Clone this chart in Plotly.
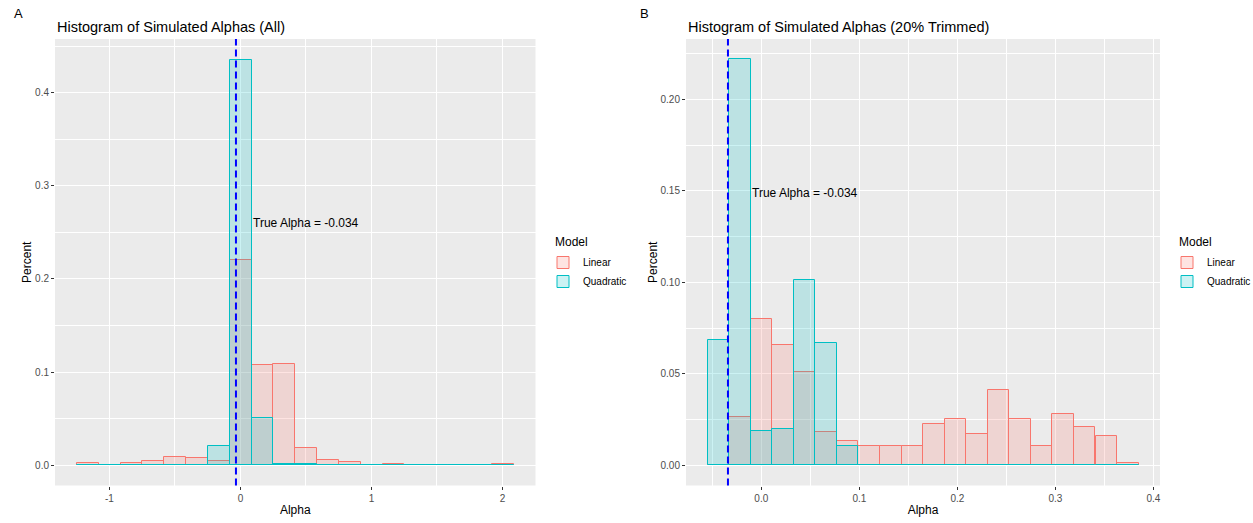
import plotly.graph_objects as go

# ---------------- data ----------------
TRUE_ALPHA = -0.034
BIN_WIDTH_ALL = 0.1667
BIN_WIDTH_TRIM = 0.02198

# Panel A (All) bin centers
bins_all = [-1.165, -0.998, -0.831, -0.665, -0.498, -0.331, -0.165, 0.002, 0.169, 0.335,
            0.502, 0.669, 0.835, 1.002, 1.168, 1.335, 1.502, 1.668, 1.835, 2.002]
linear_all = [0.0022, 0.0, 0.002, 0.0043, 0.0086, 0.0075, 0.0043, 0.2198, 0.1075, 0.1086,
              0.019, 0.0054, 0.0032, 0.0, 0.001, 0.0, 0.0, 0.0, 0.0, 0.001]
quadratic_all = [0.0, 0.0, 0.0, 0.0, 0.0, 0.0, 0.0204, 0.4346, 0.0509, 0.001,
                 0.001, 0.0, 0.0, 0.0, 0.0, 0.0, 0.0, 0.0, 0.0, 0.0]

# Panel B (20% trimmed) bin centers
bins_trim = [-0.0438, -0.0218, 0.0002, 0.0222, 0.0441, 0.0661, 0.0881, 0.1101, 0.1321, 0.1541,
             0.1760, 0.1980, 0.2200, 0.2420, 0.2640, 0.2859, 0.3079, 0.3299, 0.3519, 0.3739]
linear_trim = [0.0, 0.0263, 0.0801, 0.0657, 0.0509, 0.0184, 0.0131, 0.0104, 0.0104, 0.0104,
               0.0224, 0.0252, 0.0172, 0.0411, 0.0252, 0.0104, 0.0279, 0.021, 0.0159, 0.0013]
quadratic_trim = [0.0682, 0.2219, 0.0186, 0.0197, 0.1013, 0.0668, 0.0104, 0.0, 0.0, 0.0,
                  0.0, 0.0, 0.0, 0.0, 0.0, 0.0, 0.0, 0.0, 0.0, 0.0]

# tick labels
xticks_all = [-1, 0, 1, 2]
xticktext_all = ["-1", "0", "1", "2"]
yticks_all = [0.0, 0.1, 0.2, 0.3, 0.4]
yticktext_all = ["0.0", "0.1", "0.2", "0.3", "0.4"]
xticks_trim = [0.0, 0.1, 0.2, 0.3, 0.4]
xticktext_trim = ["0.0", "0.1", "0.2", "0.3", "0.4"]
yticks_trim = [0.0, 0.05, 0.10, 0.15, 0.20]
yticktext_trim = ["0.00", "0.05", "0.10", "0.15", "0.20"]

titles = ["Histogram of Simulated Alphas (All)", "Histogram of Simulated Alphas (20% Trimmed)"]
label_pos_all = (0.503, 0.260)
label_pos_trim = (0.045, 0.149)

# ---------------- style ----------------
W, H = 1253, 523
FONT = "Liberation Sans, Arial, sans-serif"
RED = "#F8766D"
TEAL = "#00BFC4"
RED_FILL = "rgba(248,118,109,0.2)"
TEAL_FILL = "rgba(0,191,196,0.2)"

def px(xp):
    return xp / W

def py(yp):
    return 1 - yp / H

fig = go.Figure()

def add_hist(xs, ys, width, name, fill, line, xa, ya, legend, show):
    fig.add_trace(go.Bar(
        x=xs, y=ys, width=width, name=name,
        marker=dict(color=fill, line=dict(color=line, width=1)),
        xaxis=xa, yaxis=ya, legend=legend, showlegend=show,
        legendgroup=name + legend,
    ))

add_hist(bins_all, linear_all, BIN_WIDTH_ALL, "Linear", RED_FILL, RED, "x", "y", "legend", True)
add_hist(bins_all, quadratic_all, BIN_WIDTH_ALL, "Quadratic", TEAL_FILL, TEAL, "x", "y", "legend", True)
add_hist(bins_trim, linear_trim, BIN_WIDTH_TRIM, "Linear", RED_FILL, RED, "x2", "y2", "legend2", True)
add_hist(bins_trim, quadratic_trim, BIN_WIDTH_TRIM, "Quadratic", TEAL_FILL, TEAL, "x2", "y2", "legend2", True)

tickfont = dict(family=FONT, size=10, color="#4D4D4D")
titlefont = dict(family=FONT, size=12, color="#000000")

def xaxis(domain, rng, tv, tt, minor_dtick, minor_tick0, anchor):
    return dict(domain=domain, range=rng, anchor=anchor, tickvals=tv, ticktext=tt,
                ticks="outside", ticklen=3, tickwidth=1, tickcolor="#333333",
                tickfont=tickfont, showgrid=True, gridcolor="white", gridwidth=1.2,
                zeroline=False, showline=False, automargin=False,
                title=dict(text="Alpha", font=titlefont, standoff=3),
                minor=dict(dtick=minor_dtick, tick0=minor_tick0, showgrid=True,
                           gridcolor="white", gridwidth=0.6, ticks=""))

def yaxis(domain, rng, tv, tt, minor_dtick, anchor):
    return dict(domain=domain, range=rng, anchor=anchor, tickvals=tv, ticktext=tt,
                ticks="outside", ticklen=3, tickwidth=1, tickcolor="#333333",
                tickfont=tickfont, showgrid=True, gridcolor="white", gridwidth=1.2,
                zeroline=False, showline=False, automargin=False,
                title=dict(text="Percent", font=titlefont, standoff=0),
                minor=dict(dtick=minor_dtick, tick0=0, showgrid=True,
                           gridcolor="white", gridwidth=0.6, ticks=""))

legend_common = dict(yanchor="top", xanchor="left", bgcolor="rgba(0,0,0,0)",
                     font=dict(family=FONT, size=10, color="#000000"),
                     itemwidth=30, tracegroupgap=0)

yd = [py(485.5), py(39)]
fig.update_layout(
    width=W, height=H,
    margin=dict(l=0, r=0, t=0, b=0, autoexpand=False),
    paper_bgcolor="white", plot_bgcolor="#EBEBEB",
    barmode="overlay", bargap=0,
    font=dict(family=FONT, color="#000000"),
    xaxis=xaxis([px(55), px(535.5)], [-1.415, 2.252], xticks_all, xticktext_all, 0.5, -0.5, "y"),
    yaxis=yaxis(yd, [-0.0218, 0.4576], yticks_all, yticktext_all, 0.05, "x"),
    xaxis2=xaxis([px(686), px(1160)], [-0.0768, 0.4067], xticks_trim, xticktext_trim, 0.1, 0.05, "y2"),
    yaxis2=yaxis(yd, [-0.0111, 0.233], yticks_trim, yticktext_trim, 0.025, "x2"),
    legend=dict(x=px(543), y=py(248), **legend_common),
    legend2=dict(x=px(1167), y=py(248), **legend_common),
)

# legend titles
for xl in (553, 1177):
    fig.add_annotation(x=px(xl), y=py(241.5), xref="paper", yref="paper", text="Model",
                       showarrow=False, xanchor="left", yanchor="middle",
                       font=dict(family=FONT, size=12, color="#000000"))

# true alpha lines
for xr, yr in [("x", "y domain"), ("x2", "y2 domain")]:
    fig.add_shape(type="line", xref=xr, yref=yr, x0=TRUE_ALPHA, x1=TRUE_ALPHA, y0=0, y1=1,
                  line=dict(color="#0000FF", width=2, dash="7px,4px"), layer="above")

label = "True Alpha = %s" % TRUE_ALPHA
fig.add_annotation(x=label_pos_all[0], y=label_pos_all[1], xref="x", yref="y", text=label,
                   showarrow=False, font=dict(family=FONT, size=12, color="#000000"))
fig.add_annotation(x=label_pos_trim[0], y=label_pos_trim[1], xref="x2", yref="y2", text=label,
                   showarrow=False, font=dict(family=FONT, size=12, color="#000000"))

# titles and panel labels
fig.add_annotation(x=px(55), y=py(27), xref="paper", yref="paper", text=titles[0],
                   showarrow=False, xanchor="left", yanchor="middle",
                   font=dict(family=FONT, size=14.5, color="#000000"))
fig.add_annotation(x=px(686), y=py(27), xref="paper", yref="paper", text=titles[1],
                   showarrow=False, xanchor="left", yanchor="middle",
                   font=dict(family=FONT, size=14.5, color="#000000"))
fig.add_annotation(x=px(12), y=py(14), xref="paper", yref="paper", text="A",
                   showarrow=False, xanchor="left", yanchor="middle",
                   font=dict(family=FONT, size=13, color="#000000"))
fig.add_annotation(x=px(638), y=py(14), xref="paper", yref="paper", text="B",
                   showarrow=False, xanchor="left", yanchor="middle",
                   font=dict(family=FONT, size=13, color="#000000"))

fig.write_html("out.html")
